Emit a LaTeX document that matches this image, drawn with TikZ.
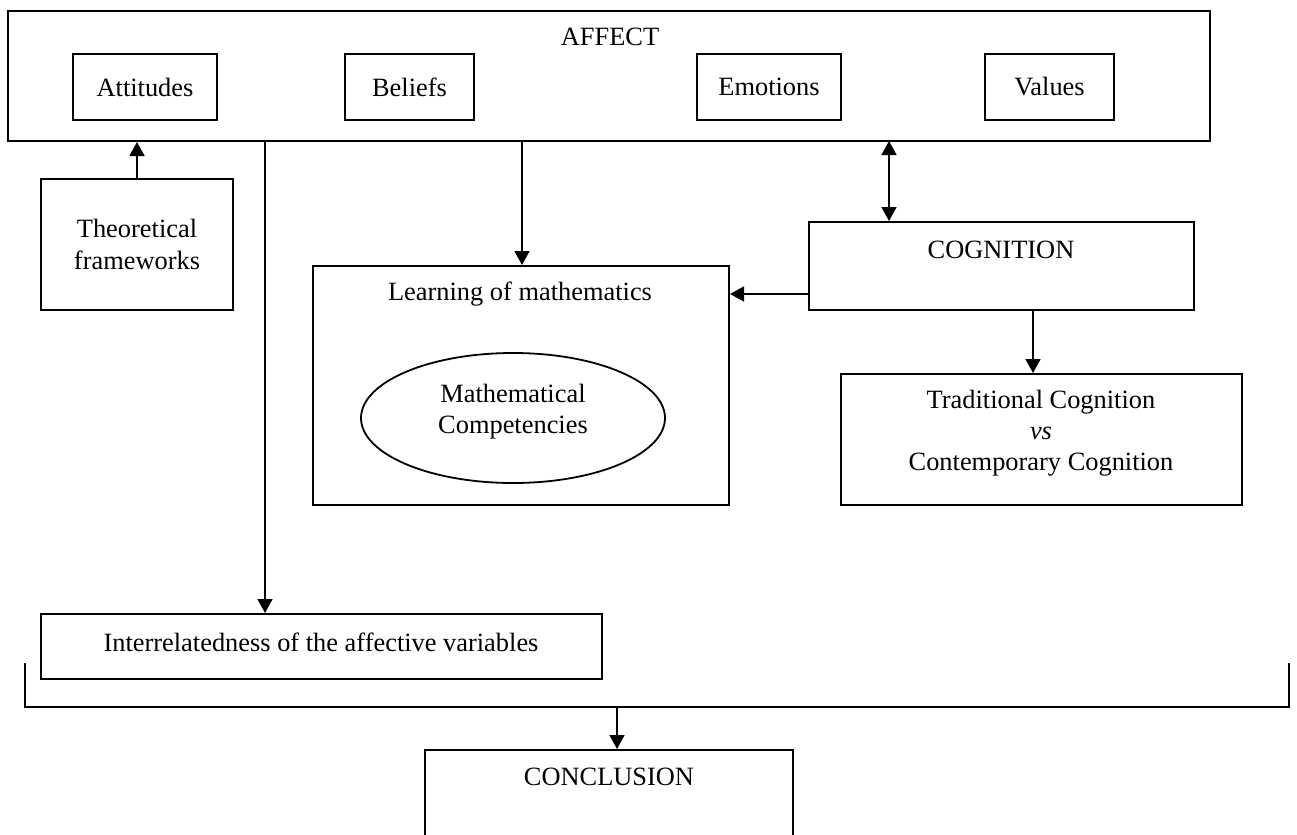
\documentclass[tikz,border=0pt]{standalone}
\usepackage{fontspec}
\setmainfont{Liberation Serif}
\usetikzlibrary{arrows.meta,shapes.geometric}
\tikzset{
  box/.style={draw=black,line width=1pt,rectangle,inner sep=0pt},
  lbl/.style={inner sep=0pt,align=center,font=\fontsize{13.2}{15.6}\selectfont},
  arr/.style={line width=0.9pt,-{Triangle[length=7pt,width=7.5pt]}},
  darr/.style={line width=0.9pt,{Triangle[length=7pt,width=7.5pt]}-{Triangle[length=7pt,width=7.5pt]}},
  plain/.style={line width=0.9pt}
}
\begin{document}
\begin{tikzpicture}[x=0.5pt,y=-0.5pt]
\useasboundingbox (0,0) rectangle (1297,835);
\clip (0,0) rectangle (1297,835);
\fill[white] (0,0) rectangle (1297,835);
% AFFECT
\node[box,minimum width=601pt,minimum height=65pt] (affect) at (609,76) {};
\node[lbl] (affectlbl) at (610,37) {AFFECT};
\node[box,minimum width=72pt,minimum height=33pt,lbl,draw] (att) at (145,87) {Attitudes};
\node[box,minimum width=64.5pt,minimum height=33pt,lbl,draw] (bel) at (409.5,87) {Beliefs};
\node[box,minimum width=72pt,minimum height=33pt,lbl,draw] (emo) at (769,87) {Emotions};
\node[box,minimum width=64.5pt,minimum height=33pt,lbl,draw] (val) at (1049.5,87) {Values};
% Theoretical frameworks
\node[box,minimum width=96pt,minimum height=65.5pt,lbl,draw] (theo) at (137,244.5) {Theoretical\\frameworks};
% Learning
\node[box,minimum width=208pt,minimum height=119.5pt] (learn) at (521,385.5) {};
\node[lbl] (learnlbl) at (520,294) {Learning of mathematics};
\node[draw=black,line width=0.9pt,ellipse,inner sep=0pt,minimum width=152pt,minimum height=65pt] (ell) at (513,418) {};
\node[lbl] (elllbl) at (513,412) {Mathematical\\Competencies};
% Cognition
\node[box,minimum width=192.5pt,minimum height=44pt] (cog) at (1001.5,266) {};
\node[lbl] (coglbl) at (1001,250) {COGNITION};
\node[box,minimum width=200.5pt,minimum height=65.5pt] (trad) at (1041.5,439.5) {};
\node[lbl] (tradlbl) at (1041,433) {Traditional Cognition\\\textit{vs}\\Contemporary Cognition};
% Interrelatedness
\node[box,minimum width=280.5pt,minimum height=32.5pt] (inter) at (321.5,646.5) {};
\node[lbl] (interlbl) at (321,642) {Interrelatedness of the affective variables};
% Conclusion
\node[box,minimum width=184pt,minimum height=80pt] (concl) at (609,830) {};
\node[lbl] (concllbl) at (609,777) {CONCLUSION};
% connectors
\draw[arr] (theo.north) -- (theo.north |- affect.south);
\coordinate (c1) at (265,141);
\draw[arr] (c1) -- (c1 |- inter.north);
\coordinate (c2) at (522,141);
\draw[arr] (c2) -- (c2 |- learn.north);
\coordinate (c3) at (889,141);
\draw[darr] (c3) -- (c3 |- cog.north);
\coordinate (c4) at (809,294);
\draw[arr] (c4) -- (c4 -| learn.east);
\coordinate (c5) at (1033,310);
\draw[arr] (c5) -- (c5 |- trad.north);
\coordinate (b1) at (25,663);
\coordinate (b2) at (25,707);
\coordinate (b3) at (1289,707);
\coordinate (b4) at (1289,663);
\draw[plain] (b1) -- (b2) -- (b3) -- (b4);
\coordinate (c6) at (617,707);
\draw[arr] (c6) -- (c6 |- concl.north);
\end{tikzpicture}
\end{document}
